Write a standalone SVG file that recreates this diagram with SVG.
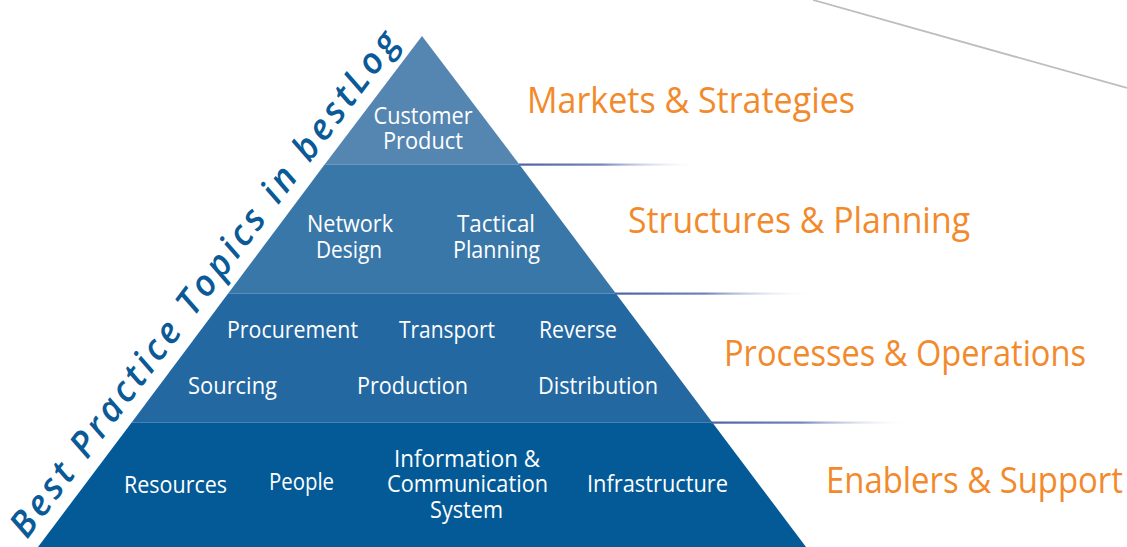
<svg xmlns="http://www.w3.org/2000/svg" width="1127" height="547" viewBox="0 0 1127 547">
<defs>
<linearGradient id="fade" x1="0" y1="0" x2="1" y2="0">
<stop offset="0" stop-color="#4E62A3"/>
<stop offset="0.45" stop-color="#7384BA"/>
<stop offset="1" stop-color="#FFFFFF" stop-opacity="0"/>
</linearGradient>
<style>
.w{font-family:"Open Sans","Noto Sans",sans-serif;font-size:23.5px;fill:#FFFFFF;}
.o{font-family:"Open Sans","Noto Sans",sans-serif;font-size:37px;fill:#F28A2C;}
.sep{stroke:#FFFFFF;stroke-opacity:0.25;stroke-width:1;}
.fl{fill:url(#fade);}
</style>
</defs>
<rect width="1127" height="547" fill="#FFFFFF"/>
<line x1="813" y1="0" x2="1127" y2="88" stroke="#BDBDBD" stroke-width="1.8"/>

<g id="tier-markets">
<polygon points="422,36 519,164 325,164" fill="#5586B1"/>
<text class="w" x="423" y="124" text-anchor="middle" textLength="99" lengthAdjust="spacingAndGlyphs">Customer</text>
<text class="w" x="423" y="149" text-anchor="middle" textLength="80" lengthAdjust="spacingAndGlyphs">Product</text>
</g>
<g id="tier-structures">
<polygon points="325,164 519,164 615.5,293 228.5,293" fill="#3A77A9"/>
<text class="w" x="350" y="232" text-anchor="middle" textLength="86" lengthAdjust="spacingAndGlyphs">Network</text>
<text class="w" x="349" y="258" text-anchor="middle" textLength="66" lengthAdjust="spacingAndGlyphs">Design</text>
<text class="w" x="496" y="232" text-anchor="middle" textLength="78" lengthAdjust="spacingAndGlyphs">Tactical</text>
<text class="w" x="496.5" y="258" text-anchor="middle" textLength="87" lengthAdjust="spacingAndGlyphs">Planning</text>
</g>
<g id="tier-processes">
<polygon points="228.5,293 615.5,293 712,422 132,422" fill="#2368A0"/>
<text class="w" x="227" y="338" textLength="131" lengthAdjust="spacingAndGlyphs">Procurement</text>
<text class="w" x="399" y="338" textLength="96" lengthAdjust="spacingAndGlyphs">Transport</text>
<text class="w" x="539" y="338" textLength="78" lengthAdjust="spacingAndGlyphs">Reverse</text>
<text class="w" x="188" y="394" textLength="89" lengthAdjust="spacingAndGlyphs">Sourcing</text>
<text class="w" x="357" y="394" textLength="111" lengthAdjust="spacingAndGlyphs">Production</text>
<text class="w" x="538" y="394" textLength="120" lengthAdjust="spacingAndGlyphs">Distribution</text>
</g>
<g id="tier-enablers">
<polygon points="132,422 712,422 806,547 38,547" fill="#035A97"/>
<text class="w" x="124" y="493" textLength="103" lengthAdjust="spacingAndGlyphs">Resources</text>
<text class="w" x="269" y="490" textLength="65" lengthAdjust="spacingAndGlyphs">People</text>
<text class="w" x="394" y="467" textLength="146" lengthAdjust="spacingAndGlyphs">Information &amp;</text>
<text class="w" x="387" y="492" textLength="161" lengthAdjust="spacingAndGlyphs">Communication</text>
<text class="w" x="430" y="518" textLength="73" lengthAdjust="spacingAndGlyphs">System</text>
<text class="w" x="587" y="492" textLength="141" lengthAdjust="spacingAndGlyphs">Infrastructure</text>
</g>

<g id="rules">
<line class="sep" x1="325" y1="164.5" x2="519" y2="164.5"/>
<line class="sep" x1="228.5" y1="293.5" x2="615" y2="293.5"/>
<line class="sep" x1="132" y1="422.5" x2="711" y2="422.5"/>
<rect class="fl" x="519" y="163.5" width="182" height="2.2"/>
<rect class="fl" x="615" y="292.5" width="200" height="2.2"/>
<rect class="fl" x="711" y="421.5" width="200" height="2.2"/>
</g>

<g id="labels">
<text class="o" x="527" y="113" textLength="328" lengthAdjust="spacingAndGlyphs">Markets &amp; Strategies</text>
<text class="o" x="628" y="233" textLength="342" lengthAdjust="spacingAndGlyphs">Structures &amp; Planning</text>
<text class="o" x="724" y="366" textLength="362" lengthAdjust="spacingAndGlyphs">Processes &amp; Operations</text>
<text class="o" x="826" y="493" textLength="297" lengthAdjust="spacingAndGlyphs">Enablers &amp; Support</text>
</g>

<g id="title">
<text transform="translate(27,540) rotate(-53.13)" font-family="'Open Sans','Noto Sans',sans-serif" font-style="italic" font-weight="600" font-size="36" fill="#0A5A97" textLength="622" lengthAdjust="spacing">Best Practice Topics in bestLog</text>
</g>
</svg>
